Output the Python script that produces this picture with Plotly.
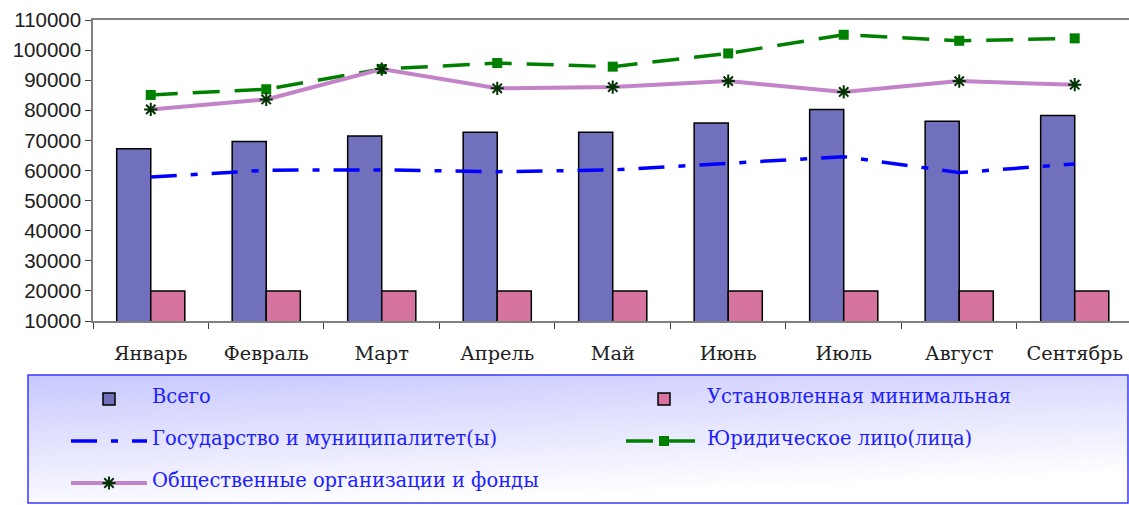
import base64
import plotly.graph_objects as go

months = ["Январь", "Февраль", "Март", "Апрель", "Май", "Июнь", "Июль", "Август", "Сентябрь"]
total = [67200, 69600, 71500, 72700, 72700, 75800, 80300, 76400, 78300]
minimal = [20000, 20000, 20000, 20000, 20000, 20000, 20000, 20000, 20000]
state = [57800, 60100, 60200, 59600, 60200, 62400, 64600, 59300, 62200]
legal = [85100, 87000, 93700, 95700, 94500, 98900, 105100, 103100, 103900]
public = [80300, 83600, 93700, 87300, 87700, 89700, 86100, 89700, 88500]

names = ["Всего", "Установленная минимальная", "Государство и муниципалитет(ы)",
         "Юридическое лицо(лица)", "Общественные организации и фонды"]

W, H = 1129, 505
ML, MT, MB = 93, 20, 184
PW, PH = W - ML, H - MT - MB


def lg(n):
    return " <br><span style='font-size:19.5px'>" + n + "</span><br> "


def px_x(p):
    return (p - ML) / PW


def px_y(p):
    return (H - MB - p) / PH


fig = go.Figure()
fig.add_trace(go.Bar(x=months, y=total, name=lg(names[0]),
                     marker=dict(color="#7070bc", line=dict(color="#000000", width=1.5))))
fig.add_trace(go.Bar(x=months, y=minimal, name=lg(names[1]),
                     marker=dict(color="#d6749f", line=dict(color="#000000", width=1.5))))
fig.add_trace(go.Scatter(x=months, y=state, name=lg(names[2]), mode="lines",
                         line=dict(color="#0000ff", width=3.5, dash="26px,14px,7px,14px")))
fig.add_trace(go.Scatter(x=months, y=legal, name=lg(names[3]), mode="lines+markers",
                         line=dict(color="#008000", width=3.5, dash="27px,15px"),
                         marker=dict(symbol="square", size=10, color="#008000")))
fig.add_trace(go.Scatter(x=months, y=public, name=lg(names[4]), mode="lines+markers",
                         line=dict(color="#c383c8", width=4),
                         marker=dict(symbol="asterisk-open", size=11, color="#003300",
                                     line=dict(color="#003300", width=2))))

svg = ("<svg xmlns='http://www.w3.org/2000/svg' width='1100' height='128'>"
       "<defs><linearGradient id='g' x1='0' y1='0' x2='0.35' y2='1'>"
       "<stop offset='0' stop-color='#c8c8ff'/><stop offset='1' stop-color='#ffffff'/>"
       "</linearGradient></defs><rect width='1100' height='128' fill='url(#g)'/></svg>")
src = "data:image/svg+xml;base64," + base64.b64encode(svg.encode()).decode()

x0, x1, y0, y1 = px_x(28), px_x(1128), px_y(375), px_y(503)
fig.add_layout_image(dict(source=src, xref="paper", yref="paper", x=x0, y=y0,
                          sizex=x1 - x0, sizey=y0 - y1, sizing="stretch",
                          xanchor="left", yanchor="top", layer="below"))
fig.add_shape(type="rect", xref="paper", yref="paper", x0=x0, x1=x1, y0=y1, y1=y0,
              line=dict(color="#3a3aff", width=1.5), layer="below")

fig.update_layout(
    width=W, height=H,
    margin=dict(l=ML, r=0, t=MT, b=MB, autoexpand=False),
    paper_bgcolor="white", plot_bgcolor="white",
    barmode="group", bargap=0.41, bargroupgap=0,
    showlegend=True,
    legend=dict(orientation="h", x=px_x(66), y=px_y(373), xanchor="left", yanchor="top",
                bgcolor="rgba(0,0,0,0)", borderwidth=0,
                font=dict(family="DejaVu Serif", size=10, color="#2020ff"),
                itemwidth=76, entrywidth=464, entrywidthmode="pixels",
                traceorder="normal"),
    xaxis=dict(type="category", range=[-0.5, 8.47], showgrid=False,
               showline=True, linecolor="#808080", linewidth=1.5, mirror=True,
               ticks="outside", tickson="boundaries", ticklen=6, tickcolor="#404040",
               ticklabelstandoff=14,
               tickfont=dict(family="DejaVu Serif", size=19.3, color="#202020")),
    yaxis=dict(range=[10000, 110000], showgrid=False, zeroline=False,
               showline=True, linecolor="#808080", linewidth=1.5,
               ticks="outside", ticklen=6, tickcolor="#404040",
               tickvals=[10000, 20000, 30000, 40000, 50000, 60000, 70000, 80000, 90000, 100000, 110000],
               tickformat="d",
               tickfont=dict(family="Liberation Sans", size=20.5, color="#202020")),
)

fig.write_html("out.html", config={"displayModeBar": False},
               post_script="document.body.style.margin='0';"
                           "document.documentElement.style.overflow='hidden';")
